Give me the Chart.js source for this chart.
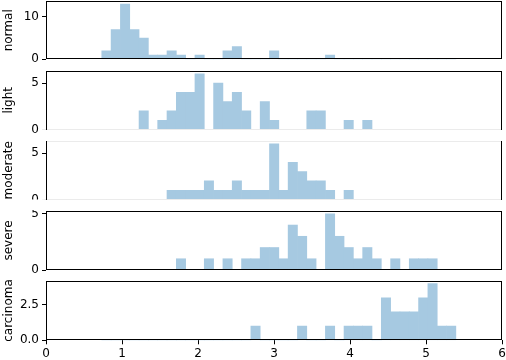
<!DOCTYPE html>
<html>
<head>
<meta charset="utf-8">
<script src="https://cdn.jsdelivr.net/npm/chart.js@4.4.0/dist/chart.umd.min.js"></script>
<style>
  html, body { margin: 0; padding: 0; background: #fff; }
  #wrap { position: relative; width: 506px; height: 360px; }
  #wrap canvas { position: absolute; left: 0; top: 0; }
</style>
</head>
<body>
<div id="wrap"></div>
<script>
// shared histogram bins
const binStart = 0.734;
const binWidth = 0.1226;

const groups = ["normal", "light", "moderate", "severe", "carcinoma"];

// counts per bin (38 bins)
const normal    = [2,7,13,7,5,1,1,2,1,0,1,0,0,2,3,0,0,0,2,0,0,0,0,0,1,0,0,0,0,0,0,0,0,0,0,0,0,0];
const light     = [0,0,0,0,2,0,1,2,4,4,6,0,5,3,4,2,0,3,1,0,0,0,2,2,0,0,1,0,1,0,0,0,0,0,0,0,0,0];
const moderate  = [0,0,0,0,0,0,0,1,1,1,1,2,1,1,2,1,1,1,6,1,4,3,2,2,1,0,1,0,0,0,0,0,0,0,0,0,0,0];
const severe    = [0,0,0,0,0,0,0,0,1,0,0,1,0,1,0,1,1,2,2,1,4,3,1,0,5,3,2,1,2,1,0,1,0,1,1,1,0,0];
const carcinoma = [0,0,0,0,0,0,0,0,0,0,0,0,0,0,0,0,1,0,0,0,0,1,0,0,1,0,1,1,1,0,3,2,2,2,3,4,1,1];

const seriesCounts = [normal, light, moderate, severe, carcinoma];
const yMax = [13.65, 6.3, 6.3, 5.25, 4.2];
const yTicks = [[0, 10], [0, 5], [0, 5], [0, 5], [0, 2.5]];
const xTicks = [0, 1, 2, 3, 4, 5, 6];

// layout of the panels (pixels)
const W = 506, H = 360;
const plotLeft = 46, plotRight = 502;
const panelTop    = [1.3, 71, 141, 211, 280.7];
const panelBottom = [59.3, 129.5, 199.5, 270, 340.3];
const spineTop    = ["#000", "#000", "#ebebeb", "#000", "#000"];
const spineBottom = ["#000", "#ebebeb", "#ebebeb", "#000", "#000"];
const zeroTick    = ["#000", "#ebebeb", "#ebebeb", "#000", "#000"];

const font = { family: "DejaVu Sans", size: 12 };
const barColor = "rgb(166,201,225)";

const spines = {
  id: "spines",
  afterDraw(chart, args, opts) {
    const { ctx, chartArea: a } = chart;
    const t = Math.round(a.top) + 0.5, b = Math.round(a.bottom) - 0.5;
    const l = Math.round(a.left) + 0.5, r = Math.round(a.right) - 0.5;
    ctx.save();
    // the severe panel's top tick label is cut off in the original
    if (opts.clipTop) {
      ctx.fillStyle = "#fff";
      ctx.fillRect(20, t - 12, l - 22, 12 - opts.clipTop);
    }
    ctx.lineWidth = 1;
    const line = (x1, y1, x2, y2, c) => {
      ctx.strokeStyle = c;
      ctx.beginPath(); ctx.moveTo(x1, y1); ctx.lineTo(x2, y2); ctx.stroke();
    };
    line(l, t, r, t, opts.top);
    line(l, b, r, b, opts.bottom);
    line(l, t - 0.5, l, b + 0.5, "#000");
    line(r, t - 0.5, r, b + 0.5, "#000");
    ctx.restore();
  }
};

const wrap = document.getElementById("wrap");

groups.forEach((name, i) => {
  const canvas = document.createElement("canvas");
  canvas.width = W; canvas.height = H;
  wrap.appendChild(canvas);

  const last = i === groups.length - 1;
  const points = seriesCounts[i].map((c, k) => ({ x: binStart + binWidth * (k + 0.5), y: c }));

  new Chart(canvas, {
    type: "bar",
    data: {
      datasets: [{
        label: name,
        data: points,
        backgroundColor: barColor,
        borderWidth: 0,
        barPercentage: 1,
        categoryPercentage: 1
      }]
    },
    options: {
      responsive: false,
      animation: false,
      events: [],
      layout: {
        padding: {
          left: 0,
          right: W - plotRight,
          top: panelTop[i],
          bottom: last ? 0 : H - panelBottom[i]
        }
      },
      plugins: {
        legend: { display: false },
        tooltip: { enabled: false },
        spines: { top: spineTop[i], bottom: spineBottom[i], clipTop: name === "severe" ? 1.5 : 0 }
      },
      scales: {
        x: {
          type: "linear",
          min: 0, max: 6,
          offset: false,
          display: last,
          afterFit: s => {
            if (last) s.height = H - panelBottom[i];
            s.paddingLeft = 0; s.paddingRight = 0;
          },
          afterBuildTicks: s => { s.ticks = xTicks.map(v => ({ value: v })); },
          grid: { drawOnChartArea: false, drawTicks: true, tickLength: 4, tickColor: "#000", offset: false },
          border: { display: false },
          ticks: { color: "#000", font, padding: 2, maxRotation: 0 }
        },
        y: {
          min: 0, max: yMax[i],
          afterFit: s => { s.width = plotLeft; s.paddingTop = 0; s.paddingBottom = 0; },
          afterBuildTicks: s => { s.ticks = yTicks[i].map(v => ({ value: v })); },
          grid: {
            drawOnChartArea: false, drawTicks: true, tickLength: 4,
            tickColor: ctx => (ctx.tick && ctx.tick.value === 0 ? zeroTick[i] : "#000")
          },
          border: { display: false },
          ticks: {
            color: "#000", font, padding: 3,
            callback: v => (last ? v.toFixed(1) : String(v))
          },
          title: { display: true, text: name, color: "#000", font, padding: { top: 2, bottom: 0 } }
        }
      }
    },
    plugins: [spines]
  });
});
</script>
</body>
</html>
